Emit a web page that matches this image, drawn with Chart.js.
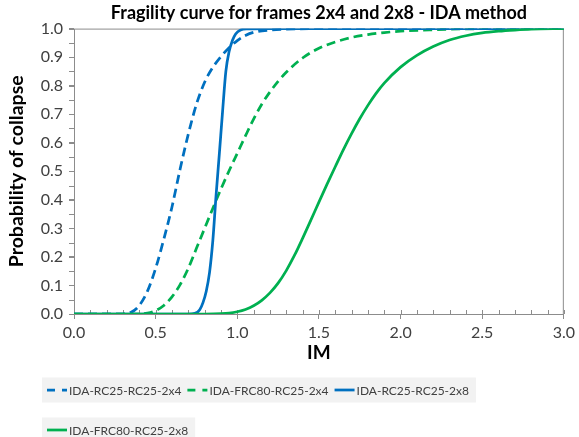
<!DOCTYPE html>
<html>
<head>
<meta charset="utf-8">
<script src="https://cdn.jsdelivr.net/npm/chart.js@4.4.0/dist/chart.umd.min.js"></script>
<style>
  html, body { margin: 0; padding: 0; background: #fff; }
  #wrap { width: 579px; height: 437px; }
</style>
</head>
<body>
<div id="wrap"><canvas id="fragilityChart"></canvas></div>
<script>
'use strict'

// values (IM, probability of collapse)
const rc25x4Im = [0, 0.30, 0.35, 0.40, 0.45, 0.50, 0.55, 0.60, 0.65, 0.70, 0.75, 0.80, 0.85, 0.90, 0.95, 1.00, 1.05, 1.10, 1.20, 1.30, 1.50, 3.00];
const rc25x4P  = [0, 0, 0.006, 0.03, 0.08, 0.16, 0.262, 0.375, 0.508, 0.63, 0.735, 0.812, 0.864, 0.902, 0.933, 0.958, 0.976, 0.987, 0.995, 0.998, 1, 1];

const frc80x4Im = [0, 0.40, 0.45, 0.50, 0.55, 0.60, 0.65, 0.70, 0.75, 0.80, 0.85, 0.90, 0.95, 1.00, 1.05, 1.10, 1.15, 1.20, 1.25, 1.30, 1.40, 1.50, 1.60, 1.70, 1.80, 1.90, 2.00, 2.20, 2.40, 2.60, 3.00];
const frc80x4P  = [0, 0, 0.003, 0.012, 0.03, 0.06, 0.103, 0.16, 0.23, 0.30, 0.37, 0.438, 0.502, 0.563, 0.624, 0.683, 0.735, 0.778, 0.815, 0.847, 0.897, 0.931, 0.953, 0.969, 0.979, 0.986, 0.991, 0.996, 0.999, 1, 1];

const rc25x8Im = [0, 0.70, 0.74, 0.77, 0.79, 0.81, 0.83, 0.85, 0.87, 0.89, 0.91, 0.93, 0.95, 0.97, 0.99, 1.02, 1.06, 1.20, 3.00];
const rc25x8P  = [0, 0, 0.002, 0.015, 0.04, 0.08, 0.145, 0.255, 0.415, 0.56, 0.71, 0.85, 0.92, 0.958, 0.981, 0.995, 0.999, 1, 1];

const frc80x8Im = [0, 0.80, 0.90, 0.95, 1.00, 1.05, 1.10, 1.15, 1.20, 1.25, 1.30, 1.35, 1.40, 1.45, 1.50, 1.55, 1.60, 1.65, 1.70, 1.75, 1.80, 1.85, 1.90, 2.00, 2.10, 2.20, 2.30, 2.40, 2.50, 2.60, 2.70, 2.80, 3.00];
const frc80x8P  = [0, 0, 0.001, 0.003, 0.008, 0.016, 0.029, 0.048, 0.074, 0.108, 0.152, 0.205, 0.265, 0.328, 0.392, 0.455, 0.516, 0.576, 0.632, 0.684, 0.731, 0.773, 0.809, 0.865, 0.906, 0.937, 0.96, 0.975, 0.985, 0.991, 0.995, 0.998, 1];

const seriesLabels = ['IDA-RC25-RC25-2x4', 'IDA-FRC80-RC25-2x4', 'IDA-RC25-RC25-2x8', 'IDA-FRC80-RC25-2x8'];

const xMin = 0, xMax = 3, xStep = 0.5, xMinorStep = 0.1;
const yMin = 0, yMax = 1, yStep = 0.1, yMinorStep = 0.05;

const BLUE = '#0070C0';
const GREEN = '#00B050';
const AXIS_GRAY = '#8c8c8c';
const LINE_W = 2.75;
const FONT = 'Lato, "Open Sans", sans-serif';

function toPoints(xs, ys) {
    return xs.map((x, i) => ({ x: x, y: ys[i] }));
}

// plot frame, minor tick marks and the Excel style legend
const excelBits = {
    id: 'excelBits',
    beforeDatasetsDraw(chart) {
        const { ctx, chartArea: a, scales } = chart;
        ctx.save();
        ctx.strokeStyle = AXIS_GRAY;
        ctx.lineWidth = 1;
        ctx.strokeRect(a.left + 0.5, a.top + 0.5, a.right - a.left - 1, a.bottom - a.top);
        ctx.beginPath();
        for (let v = xMin; v <= xMax + 1e-9; v += xMinorStep) {
            const px = Math.round(scales.x.getPixelForValue(v)) + 0.5;
            ctx.moveTo(px, a.bottom);
            ctx.lineTo(px, a.bottom - 4);
        }
        for (let v = yMin; v <= yMax + 1e-9; v += yMinorStep) {
            const py = Math.round(scales.y.getPixelForValue(v)) + 0.5;
            ctx.moveTo(a.left, py);
            ctx.lineTo(a.left - 5, py);
        }
        ctx.stroke();
        ctx.restore();
    },
    afterDraw(chart) {
        const ctx = chart.ctx;
        const sample = 20, gap = 2, itemGap = 6, maxRow = 470;
        ctx.save();
        ctx.font = '12px ' + FONT;
        ctx.textBaseline = 'middle';
        const items = chart.data.datasets.map(ds => ({
            ds: ds,
            w: sample + gap + ctx.measureText(ds.label).width
        }));
        const rows = [];
        let row = [], rowW = 0;
        items.forEach(it => {
            if (row.length && rowW + itemGap + it.w > maxRow) {
                rows.push(row);
                row = [];
                rowW = 0;
            }
            rowW += (row.length ? itemGap : 0) + it.w;
            row.push(it);
        });
        rows.push(row);

        let y = 390;
        rows.forEach(r => {
            const w = r.reduce((s, it) => s + it.w, 0) + itemGap * (r.length - 1);
            ctx.fillStyle = '#f2f2f2';
            ctx.fillRect(42, y - 12.5, w + 12, 25);
            let x = 47;
            r.forEach(it => {
                ctx.strokeStyle = it.ds.borderColor;
                ctx.lineWidth = LINE_W;
                ctx.setLineDash(it.ds.borderDash.length ? [8, 7] : []);
                ctx.beginPath();
                ctx.moveTo(x, y);
                ctx.lineTo(x + sample, y);
                ctx.stroke();
                ctx.setLineDash([]);
                ctx.fillStyle = '#404040';
                ctx.fillText(it.ds.label, x + sample + gap, y + 1);
                x += it.w + itemGap;
            });
            y += 40;
        });
        ctx.restore();
    }
};

const ctx = document.getElementById('fragilityChart').getContext('2d');
const fragilityChart = new Chart(ctx, {
    type: 'line',
    data: {
        datasets: [
            {
                label: seriesLabels[0],
                data: toPoints(rc25x4Im, rc25x4P),
                borderColor: BLUE,
                borderDash: [9, 5],
                order: 3
            },
            {
                label: seriesLabels[1],
                data: toPoints(frc80x4Im, frc80x4P),
                borderColor: GREEN,
                borderDash: [9, 5],
                order: 2
            },
            {
                label: seriesLabels[2],
                data: toPoints(rc25x8Im, rc25x8P),
                borderColor: BLUE,
                borderDash: [],
                order: 1
            },
            {
                label: seriesLabels[3],
                data: toPoints(frc80x8Im, frc80x8P),
                borderColor: GREEN,
                borderDash: [],
                order: 0
            }
        ]
    },
    options: {
        responsive: true,
        maintainAspectRatio: false,
        animation: false,
        layout: { padding: { top: 0, left: 0, right: 12, bottom: 73 } },
        elements: {
            point: { radius: 0 },
            line: { borderWidth: LINE_W, fill: false, cubicInterpolationMode: 'monotone' }
        },
        plugins: {
            legend: { display: false },
            tooltip: { enabled: false },
            title: {
                display: true,
                fullSize: false,
                text: 'Fragility curve for frames 2x4 and 2x8 - IDA method',
                color: '#000',
                font: { family: FONT, size: 18, weight: 'bold' },
                padding: { top: 2, bottom: 5 }
            }
        },
        scales: {
            x: {
                type: 'linear',
                min: xMin,
                max: xMax,
                afterFit: scale => { scale.height = 50; },
                border: { display: false },
                grid: { drawOnChartArea: false, tickLength: 5, tickColor: AXIS_GRAY },
                ticks: {
                    stepSize: xStep,
                    padding: 4,
                    color: '#404040',
                    font: { family: FONT, size: 16 },
                    callback: v => Number(v).toFixed(1)
                },
                title: {
                    display: true,
                    text: 'IM',
                    color: '#000',
                    font: { family: FONT, size: 19, weight: 'bold' },
                    padding: { top: 0, bottom: 0 }
                }
            },
            y: {
                min: yMin,
                max: yMax,
                afterFit: scale => { scale.width = 74; },
                border: { display: false },
                grid: { drawOnChartArea: false, tickLength: 5, tickColor: AXIS_GRAY },
                ticks: {
                    stepSize: yStep,
                    padding: 6,
                    color: '#404040',
                    font: { family: FONT, size: 16 },
                    callback: v => Number(v).toFixed(1)
                },
                title: {
                    display: true,
                    text: 'Probability of collapse',
                    color: '#000',
                    font: { family: FONT, size: 19.5, weight: 'bold' },
                    padding: { top: 5, bottom: 0 }
                }
            }
        }
    },
    plugins: [excelBits]
});
</script>
</body>
</html>
